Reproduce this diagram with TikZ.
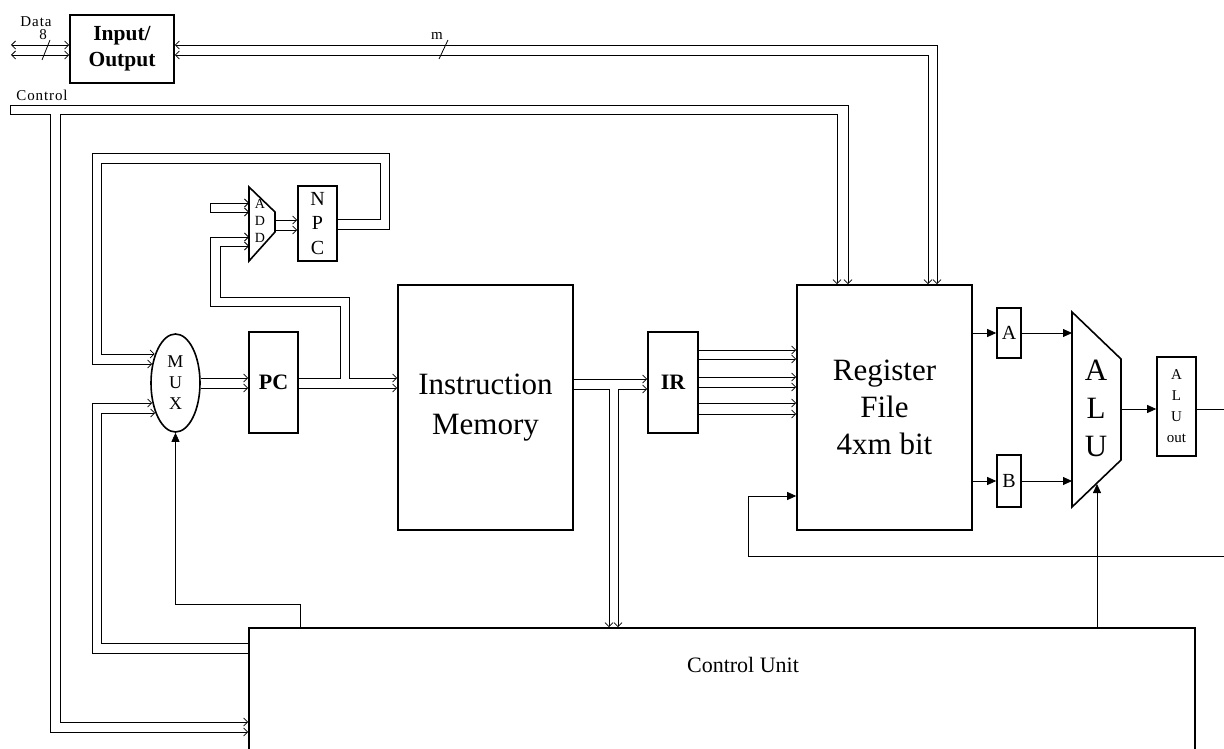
\documentclass[tikz,border=0pt]{standalone}
\usepackage{fontspec}
\setmainfont{Liberation Serif}
\usetikzlibrary{arrows.meta,calc,shapes.geometric}
\tikzset{
  sb/.tip={Straight Barb[length=4pt,width=8pt]},
  ft/.tip={Triangle[length=9pt,width=8pt]},
  wire/.style={line width=0.8pt},
  blk/.style={draw,line width=1.6pt,inner sep=0pt,align=center},
  smalltxt/.style={font=\fontsize{15}{17}\selectfont\addfontfeature{LetterSpace=6}},
}
\begin{document}
\begin{tikzpicture}[x=1pt,y=-1pt]
\useasboundingbox (0,0) rectangle (1224,749);
\clip (0,0) rectangle (1224,749);

% blocks
\node[blk,minimum width=104pt,minimum height=68pt,font=\fontsize{21.5}{26}\selectfont\bfseries] (io) at (122,49) {Input/\\Output};
\node[blk,ellipse,minimum width=49pt,minimum height=98pt,font=\fontsize{18}{21}\selectfont] (mux) at (175.5,383) {M\\U\\X};
\node[blk,minimum width=49pt,minimum height=101pt,font=\fontsize{22}{26}\selectfont\bfseries] (pc) at (273.5,382.5) {PC};
\node[blk,minimum width=39pt,minimum height=75pt,font=\fontsize{20}{24.5}\selectfont] (npc) at (317.5,223.5) {N\\P\\C};
\node[blk,minimum width=175pt,minimum height=245pt,font=\fontsize{31}{40}\selectfont] (im) at (485.5,407.5) {Instruction\\Memory};
\node[blk,minimum width=50pt,minimum height=101pt,font=\fontsize{22}{26}\selectfont\bfseries] (ir) at (673,382.5) {IR};
\node[blk,minimum width=175pt,minimum height=245pt,font=\fontsize{31}{37}\selectfont] (rf) at (884.5,407.5) {Register\\File\\4xm bit};
\node[blk,minimum width=24pt,minimum height=50pt,font=\fontsize{20}{22}\selectfont] (ra) at (1009,333) {A};
\node[blk,minimum width=24pt,minimum height=52pt,font=\fontsize{20}{22}\selectfont] (rb) at (1009,481) {B};
\node[blk,minimum width=39pt,minimum height=99pt,font=\fontsize{15}{21}\selectfont] (aluout) at (1176.5,406.5) {A\\L\\U\\out};
\node[blk,minimum width=946pt,minimum height=170pt] (cu) at (722,713) {};
\node[font=\fontsize{22}{26}\selectfont] (cutext) at (743,665) {Control Unit};

% adder
\coordinate (addA) at (249,187);
\coordinate (addB) at (275,212);
\coordinate (addC) at (275,232);
\coordinate (addD) at (249,261);
\draw[line width=1.6pt] (addA) -- (addB) -- (addC) -- (addD) -- cycle;
\node[font=\fontsize{14}{17}\selectfont,align=center] (add) at (260,221) {A\\D\\D};

% ALU
\coordinate (aluA) at (1072,312);
\coordinate (aluB) at (1121,359);
\coordinate (aluC) at (1121,460);
\coordinate (aluD) at (1072,507);
\draw[line width=1.6pt] (aluA) -- (aluB) -- (aluC) -- (aluD) -- cycle;
\node[font=\fontsize{31}{38}\selectfont,align=center] (alu) at (1096,408) {A\\L\\U};

% labels
\node[smalltxt] (datalbl) at (36,22) {Data};
\node[smalltxt] (eightlbl) at (43,35) {8};
\node[smalltxt] (mlbl) at (437,36) {m};
\node[smalltxt] (ctrllbl) at (42,95) {Control};

% free ends
\coordinate (dL) at (11,50);
\coordinate (cL) at (10,110);
\coordinate (k4) at (210,207.5);
\coordinate (outR) at (1230,409);
\coordinate (fbR) at (1230,556);

% data bus
\draw[wire,sb-sb] (dL |- 0,45) -- (io.west |- 0,45);
\draw[wire,sb-sb] (dL |- 0,55) -- (io.west |- 0,55);
\draw[wire] (42,60) -- (50,40);

% m bus
\draw[wire,sb-sb] (io.east |- 0,45) -| (rf.north -| 937,0);
\draw[wire,sb-sb] (io.east |- 0,55) -| (rf.north -| 928,0);
\draw[wire] (439,59) -- (448,40);

% control bus
\draw[wire,sb-sb] (cu.west |- 0,732) -| (50,114) -- (cL |- 0,114) -- (cL |- 0,105) -| (rf.north -| 848,0);
\draw[wire,sb-sb] (cu.west |- 0,722) -| (60,114) -| (rf.north -| 837,0);

% NPC -> MUX
\draw[wire,-sb] (npc.east |- 0,229) -| (389,153) -| (92,364) -- ($(mux.west |- 0,364)+(2,0)$);
\draw[wire,-sb] (npc.east |- 0,219) -| (380,163) -| (101,354) -- ($(mux.west |- 0,354)+(4.5,0)$);

% CU -> MUX
\draw[wire,-sb] (cu.west |- 0,653) -| (92,403) -- ($(mux.west |- 0,403)+(2,0)$);
\draw[wire,-sb] (cu.west |- 0,643) -| (101,413) -- ($(mux.west |- 0,413)+(5,0)$);

% MUX select
\draw[wire,-ft] (cu.north -| 300,0) |- (mux.south |- 0,604) -- (mux.south);

% MUX -> PC
\draw[wire,-sb] (mux.east |- 0,378) -- (pc.west |- 0,378);
\draw[wire,-sb] (mux.east |- 0,388) -- (pc.west |- 0,388);

% PC -> IM and ADD
\draw[wire,-sb] (pc.east |- 0,388) -- (im.west |- 0,388);
\draw[wire,-sb] (pc.east |- 0,378) -| (340,306) -| (210,237) -- (addA |- 0,237);
\draw[wire,sb-sb] (addA |- 0,246) -| (220,297) -| (349,378) -- (im.west |- 0,378);

% constant input to ADD
\draw[wire,sb-sb] (addA |- 0,203) -- (k4 |- 0,203) -- (k4 |- 0,212) -- (addA |- 0,212);

% ADD -> NPC
\draw[wire,-sb] (addB |- 0,220) -- (npc.west |- 0,220);
\draw[wire,-sb] (addB |- 0,230) -- (npc.west |- 0,230);

% IM -> IR and CU
\draw[wire,-sb] (im.east |- 0,379) -- (ir.west |- 0,379);
\draw[wire,-sb] (im.east |- 0,389) -| (cu.north -| 609,0);
\draw[wire,sb-sb] (cu.north -| 618,0) |- (ir.west |- 0,389);

% IR -> RF
\foreach \yy in {350,359,377,387,403,414}
  \draw[wire,-sb] (ir.east |- 0,\yy) -- (rf.west |- 0,\yy);

% RF -> A, B -> ALU
\draw[wire,-ft] (rf.east |- ra.west) -- (ra.west);
\draw[wire,-ft] (rf.east |- rb.west) -- (rb.west);
\draw[wire,-ft] (ra.east) -- (aluA |- ra.east);
\draw[wire,-ft] (rb.east) -- (aluA |- rb.east);

% ALU -> ALUout -> out, feedback
\draw[wire,-ft] (aluB |- 0,409) -- (aluout.west |- 0,409);
\draw[wire] (aluout.east |- 0,409) -- (outR);
\draw[wire,-ft] (fbR) -| (748,496) -- (rf.west |- 0,496);

% CU -> ALU
\draw[wire,-ft] (cu.north -| 1097,0) -- (1097,484);
\end{tikzpicture}
\end{document}
